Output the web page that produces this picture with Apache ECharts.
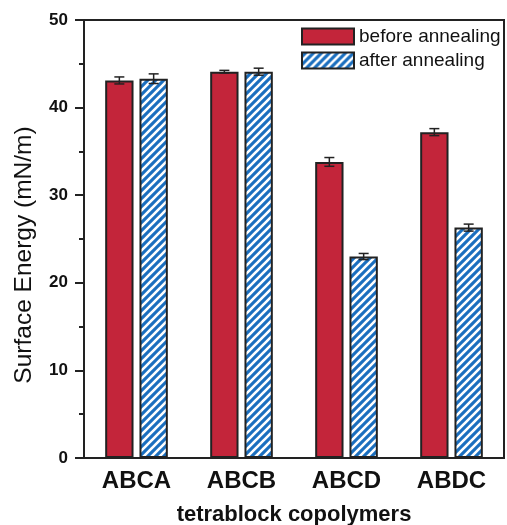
<!DOCTYPE html>
<html>
<head>
<meta charset="utf-8">
<script src="https://cdn.jsdelivr.net/npm/echarts@6/dist/echarts.min.js"></script>
<style>
  html, body { margin: 0; padding: 0; background: #fff; }
  #chart { width: 507px; height: 525px; }
</style>
</head>
<body>
<div id="chart"></div>
<script>
// data
var categories = ['ABCA', 'ABCB', 'ABCD', 'ABDC'];
var beforeVals = [43.1, 44.1, 33.8, 37.2];
var beforeErr = [0.4, 0.15, 0.5, 0.4];
var afterVals = [43.3, 44.1, 23.0, 26.3];
var afterErr = [0.55, 0.4, 0.35, 0.4];
var yTicks = [0, 10, 20, 30, 40, 50];

var FONT = '"Liberation Sans", Arial, sans-serif';
var RED = '#c3253a';
var BLUE = '#1b6fbf';
var EDGE = '#222';
var BAR_W = 0.27;   // fraction of category band
var BAR_GAP = 0.21; // fraction of bar width

// hatch pattern: blue with white "/" stripes
function makeHatch() {
    var s = 8;
    var c = document.createElement('canvas');
    c.width = s; c.height = s;
    var ctx = c.getContext('2d');
    ctx.fillStyle = BLUE;
    ctx.fillRect(0, 0, s, s);
    ctx.strokeStyle = '#ffffff';
    ctx.lineWidth = 2.6;
    ctx.beginPath();
    ctx.moveTo(-1, s + 1); ctx.lineTo(s + 1, -1);
    ctx.moveTo(-2, 2); ctx.lineTo(2, -2);
    ctx.moveTo(s - 2, s + 2); ctx.lineTo(s + 2, s - 2);
    ctx.stroke();
    return c;
}
var hatch = makeHatch();

function errData(vals, errs) {
    return vals.map(function (v, i) { return [i, v, errs[i]]; });
}

function errRender(side) {
    return function (params, api) {
        var idx = api.value(0);
        var band = api.size([1, 0])[0];
        var w = band * BAR_W;
        var off = side * (w + w * BAR_GAP) / 2;
        var hi = api.coord([idx, api.value(1) + api.value(2)]);
        var lo = api.coord([idx, api.value(1) - api.value(2)]);
        var x = hi[0] + off;
        var cap = 5;
        var st = { stroke: EDGE, lineWidth: 1.5 };
        return {
            type: 'group',
            children: [
                { type: 'line', shape: { x1: x, y1: hi[1], x2: x, y2: lo[1] }, style: st },
                { type: 'line', shape: { x1: x - cap, y1: hi[1], x2: x + cap, y2: hi[1] }, style: st },
                { type: 'line', shape: { x1: x - cap, y1: lo[1], x2: x + cap, y2: lo[1] }, style: st }
            ]
        };
    };
}

var myChart = echarts.init(document.getElementById('chart'));

var option = {
    animation: false,
    textStyle: { fontFamily: FONT },
    grid: {
        left: 84, right: 3, top: 20, bottom: 67,
        outerBoundsMode: 'none',
        show: true,
        borderColor: EDGE,
        borderWidth: 2,
        backgroundColor: '#fff'
    },
    legend: {
        orient: 'vertical',
        left: 301,
        top: 27,
        padding: 0,
        icon: 'rect',
        itemWidth: 52,
        itemHeight: 16,
        itemGap: 5,
        selectedMode: false,
        textStyle: { fontSize: 19, color: '#111', fontFamily: FONT },
        data: ['before annealing', 'after annealing']
    },
    xAxis: {
        type: 'category',
        data: categories,
        name: 'tetrablock copolymers',
        nameLocation: 'middle',
        nameGap: 46,
        nameTextStyle: { fontSize: 22, fontWeight: 'bold', color: '#111', fontFamily: FONT },
        axisLine: { lineStyle: { color: EDGE, width: 2 } },
        axisTick: { show: false },
        axisLabel: { fontSize: 24, fontWeight: 'bold', color: '#111', margin: 11, fontFamily: FONT },
        splitLine: { show: false }
    },
    yAxis: {
        type: 'value',
        min: yTicks[0],
        max: yTicks[yTicks.length - 1],
        interval: 10,
        name: 'Surface Energy (mN/m)',
        nameLocation: 'middle',
        nameGap: 47,
        nameTextStyle: { fontSize: 24.5, color: '#111', fontFamily: FONT, padding: [0, 32, 0, 0] },
        axisLine: { show: true, lineStyle: { color: EDGE, width: 2 } },
        axisTick: { show: true, length: 9, lineStyle: { color: EDGE, width: 2 } },
        minorTick: { show: true, splitNumber: 2, length: 5, lineStyle: { color: EDGE, width: 2 } },
        axisLabel: { fontSize: 17, fontWeight: 'bold', color: '#111', margin: 16, fontFamily: FONT },
        splitLine: { show: false }
    },
    series: [{
        name: 'before annealing',
        type: 'bar',
        data: beforeVals,
        barWidth: (BAR_W * 100) + '%',
        barGap: (BAR_GAP * 100) + '%',
        itemStyle: { color: RED, borderColor: EDGE, borderWidth: 2 }
    }, {
        name: 'after annealing',
        type: 'bar',
        data: afterVals,
        barWidth: (BAR_W * 100) + '%',
        barGap: (BAR_GAP * 100) + '%',
        itemStyle: { color: { image: hatch, repeat: 'repeat' }, borderColor: EDGE, borderWidth: 2 }
    }, {
        type: 'custom',
        name: 'err-before',
        renderItem: errRender(-1),
        data: errData(beforeVals, beforeErr),
        encode: { x: 0, y: 1 },
        z: 10
    }, {
        type: 'custom',
        name: 'err-after',
        renderItem: errRender(1),
        data: errData(afterVals, afterErr),
        encode: { x: 0, y: 1 },
        z: 10
    }]
};

myChart.setOption(option);
</script>
</body>
</html>
